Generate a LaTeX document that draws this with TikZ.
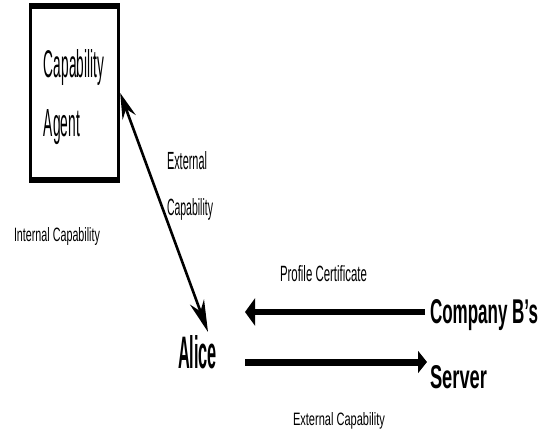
\documentclass[tikz,border=0pt]{standalone}
\usepackage{fontspec}
\setmainfont{Liberation Sans}
\usepackage{graphicx}
\usetikzlibrary{arrows.meta}
% set a piece of text to a given width and cap height (in pt)
\newcommand{\fitto}[3]{\resizebox{#1pt}{#2pt}{#3}}

\begin{document}
\begin{tikzpicture}[x=1pt,y=-1pt,
  lbl/.style={anchor=base west, inner sep=0pt, outer sep=0pt},
  agentbox/.style={draw, line width=3pt, minimum width=87.9pt,
    minimum height=176.4pt, inner sep=0pt},
  diag/.style={line width=2.6pt,
    {Stealth[length=26pt,width=14pt,inset=9pt]}-{Stealth[length=32pt,width=15pt,inset=10pt]}},
  inarrow/.style={line width=6pt, -{Triangle[length=10pt,width=27pt]}},
  outarrow/.style={line width=7pt, -{Triangle[length=9pt,width=22pt]}},
]
\useasboundingbox (0,0) rectangle (539,441);

% capability agent box with heavy top and bottom rules
\node[agentbox] (agent) at (74.75,93) {};
\fill (agent.north west) rectangle ([yshift=-6pt]agent.north east);
\fill (agent.south west) rectangle ([yshift=6pt]agent.south east);
\node[lbl] (agentA) at (44,78) {\fitto{60}{28}{Capability}};
\node[lbl] (agentB) at (44,137) {\fitto{36}{27}{Agent}};

% parties
\node[lbl] (alice) at (178,368) {\bfseries\fitto{39}{33}{Alice}};
\node[lbl] (company) at (430,324) {\bfseries\fitto{108}{24}{Company B’s}};
\node[lbl] (server) at (430,388) {\bfseries\fitto{57}{23}{Server}};

% connector labels
\node[lbl] (ext1) at (167,170) {\fitto{40}{18}{External}};
\node[lbl] (ext2) at (167,216) {\fitto{46}{17}{Capability}};
\node[lbl] (internal) at (14,242) {\fitto{86}{14}{Internal Capability}};
\node[lbl] (profile) at (280,282) {\fitto{87}{16}{Profile Certificate}};
\node[lbl] (extcap) at (293,425) {\fitto{92}{13}{External Capability}};

% connector end points beside Alice and the server
\coordinate (inR) at (425,312);
\coordinate (inL) at (245,312);
\coordinate (outL) at (245,362);
\coordinate (outR) at (427,362);

% connectors
\draw[diag] (agent.east) -- ([xshift=-9pt,yshift=3pt]alice.north east);
\draw[inarrow] (inR) -- (inL);
\draw[outarrow] (outL) -- (outR);
\end{tikzpicture}
\end{document}
